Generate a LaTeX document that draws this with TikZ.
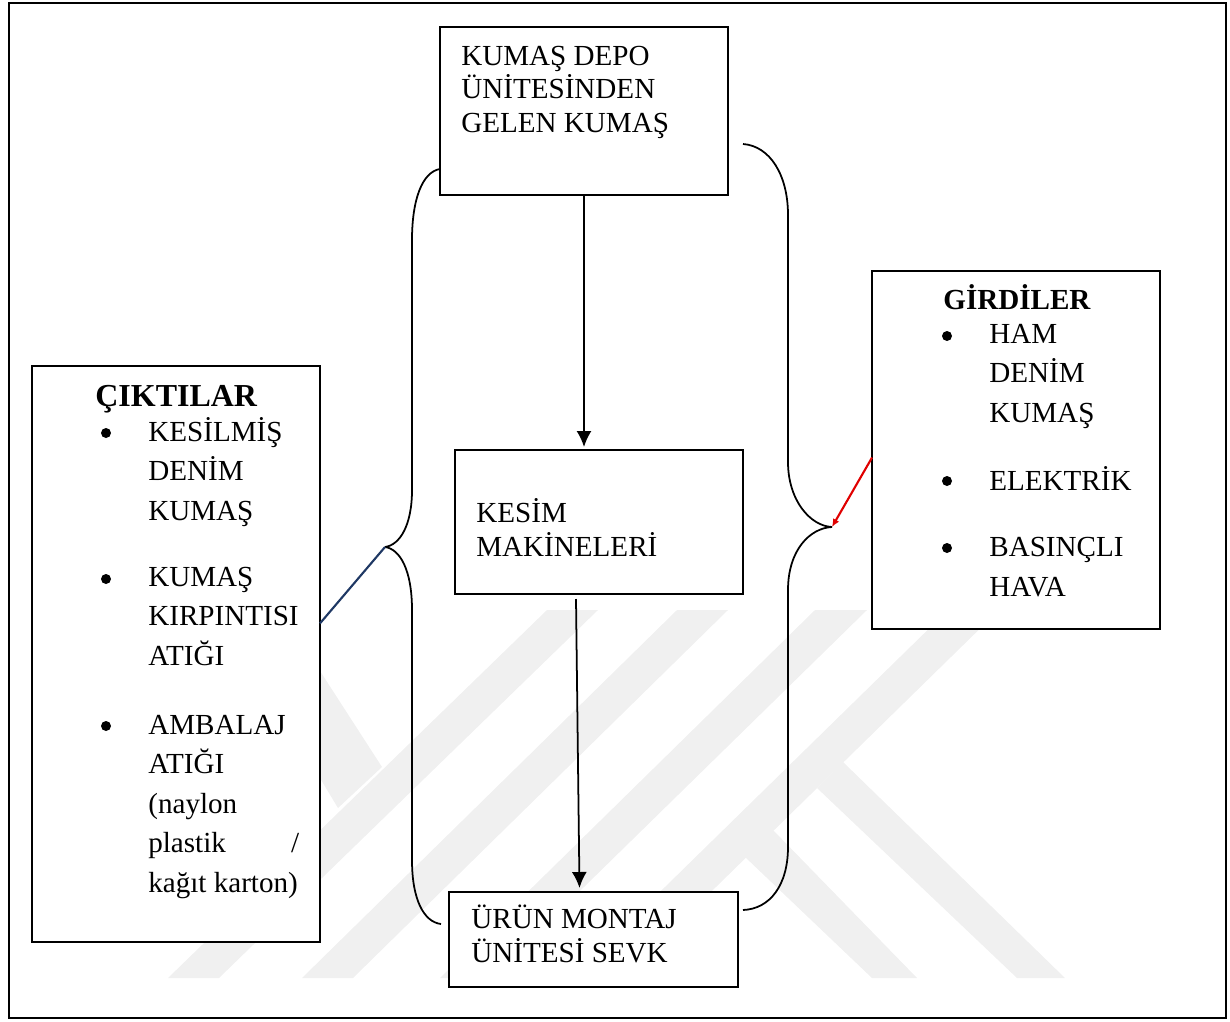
\documentclass[tikz,border=0pt]{standalone}
\usepackage{fontspec}
\setmainfont{Liberation Serif}
\usetikzlibrary{arrows.meta}
\definecolor{lacivert}{RGB}{31,56,100}
\begin{document}
\begin{tikzpicture}[x = 0.02cm, y = -0.02cm,
        kutu/.style = {draw, fill = white, line width = 1.2pt, inner sep = 0pt, outer sep = 0pt},
        yazi/.style = {anchor = base west, align = left, inner sep = 0pt, font = \fontsize{16.56}{22.4}\selectfont},
        sikiyazi/.style = {yazi, font = \fontsize{16.56}{19}\selectfont},
        baslik/.style = {anchor = base west, inner sep = 0pt, font = \fontsize{16.56}{20}\selectfont\bfseries},
        imge/.style = {circle, fill = black, inner sep = 0pt, minimum size = 0.2cm},
        ayrac/.style = {line width = 1pt},
        ok/.style = {line width = 1pt, -{Latex[length = 0.32cm, width = 0.3cm]}}]
        \useasboundingbox (0,0) rectangle (1230,1021);
        % filigran
        \fill [black!6] (168,978) -- (547,610) -- (598,610) -- (219,978) -- cycle;
        \fill [black!6] (302,978) -- (677,610) -- (728,610) -- (353,978) -- cycle;
        \fill [black!6] (440,978) -- (815,610) -- (867,610) -- (491,978) -- cycle;
        \fill [black!6] (572,978) -- (948,610) -- (999,610) -- (623,978) -- cycle;
        \fill [black!6] (300,640) -- (382,767) -- (338,808) -- (300,745) -- cycle;
        \fill [black!6] (817,788) -- (843,762) -- (1065,978) -- (1017,978) -- cycle;
        \fill [black!6] (745,857) -- (773,830) -- (917,978) -- (872,978) -- cycle;
        % kutular
        \node [kutu, fill = none, minimum width = 24.34cm, minimum height = 20.32cm] (cerceve) at (617.5,510.5) {};
        \node [kutu, minimum width = 5.76cm, minimum height = 3.36cm] (depo) at (584,111) {};
        \node [kutu, minimum width = 5.76cm, minimum height = 2.88cm] (kesim) at (599,522) {};
        \node [kutu, minimum width = 5.78cm, minimum height = 1.9cm] (urun) at (593.5,939.5) {};
        \node [kutu, minimum width = 5.76cm, minimum height = 11.52cm] (cikti) at (176,654) {};
        \node [kutu, minimum width = 5.76cm, minimum height = 7.16cm] (girdi) at (1016,450) {};
        % kutu yazilari
        \node [sikiyazi] (depoyazi) at (461,132) {KUMAŞ DEPO \\ ÜNİTESİNDEN \\ GELEN KUMAŞ};
        \node [sikiyazi] (kesimyazi) at (476,556) {KESİM \\ MAKİNELERİ};
        \node [sikiyazi] (urunyazi) at (471,962) {ÜRÜN MONTAJ \\ ÜNİTESİ SEVK};
        % ciktilar
        \node [baslik, font = \fontsize{18.2}{20}\selectfont\bfseries] (ciktibaslik) at (95,406) {ÇIKTILAR};
        \node [imge] (c1) at (106,433) {};
        \node [imge] (c2) at (106,579) {};
        \node [imge] (c3) at (106,726) {};
        \node [yazi] (c1yazi) at (148,520) {KESİLMİŞ \\ DENİM \\ KUMAŞ};
        \node [yazi] (c2yazi) at (148,665) {KUMAŞ \\ KIRPINTISI \\ ATIĞI};
        \node [yazi] (c3yazi) at (148,892) {AMBALAJ \\ ATIĞI \\ (naylon \\ \makebox[3.02cm][s]{plastik\hfill/} \\ kağıt karton)};
        % girdiler
        \node [baslik] (girdibaslik) at (943,309) {GİRDİLER};
        \node [imge] (g1) at (947,336) {};
        \node [imge] (g2) at (947,481) {};
        \node [imge] (g3) at (947,548) {};
        \node [yazi] (g1yazi) at (989,422) {HAM \\ DENİM \\ KUMAŞ};
        \node [yazi] (g2yazi) at (989,490) {ELEKTRİK};
        \node [yazi] (g3yazi) at (989,596) {BASINÇLI \\ HAVA};
        % baglantilar
        \coordinate (soluc) at (385,547);
        \coordinate (saguc) at (832,527);
        \coordinate (kesimgiris) at (584,447);
        \coordinate (kesimcikis) at (576,599);
        \coordinate (urungiris) at (579.5,888);
        \coordinate (solust) at (440,169);
        \coordinate (solalt) at (441,924);
        \coordinate (sagust) at (743,144);
        \coordinate (sagalt) at (743,910);
        \draw [ok] (depo.south) -- (kesimgiris);
        \draw [ok] (kesimcikis) -- (urungiris);
        \draw [ayrac] (solust) .. controls (422,172) and (412,200) .. (412,240) -- (412,490) .. controls (412,525) and (400,545) .. (soluc);
        \draw [ayrac] (soluc) .. controls (400,549) and (412,570) .. (412,610) -- (412,860) .. controls (412,900) and (424,922) .. (solalt);
        \draw [ayrac] (sagust) .. controls (770,146) and (788,175) .. (788,215) -- (788,462) .. controls (788,500) and (810,526) .. (saguc);
        \draw [ayrac] (saguc) .. controls (810,528) and (788,550) .. (788,590) -- (788,847) .. controls (788,885) and (770,909) .. (sagalt);
        \draw [color = lacivert, line width = 1.2pt] (cikti.12) -- (soluc);
        \draw [color = red!88!black, line width = 1.2pt, -{Latex[length = 0.16cm, width = 0.14cm]}] (girdi.183.6) -- (saguc);
\end{tikzpicture}
\end{document}
